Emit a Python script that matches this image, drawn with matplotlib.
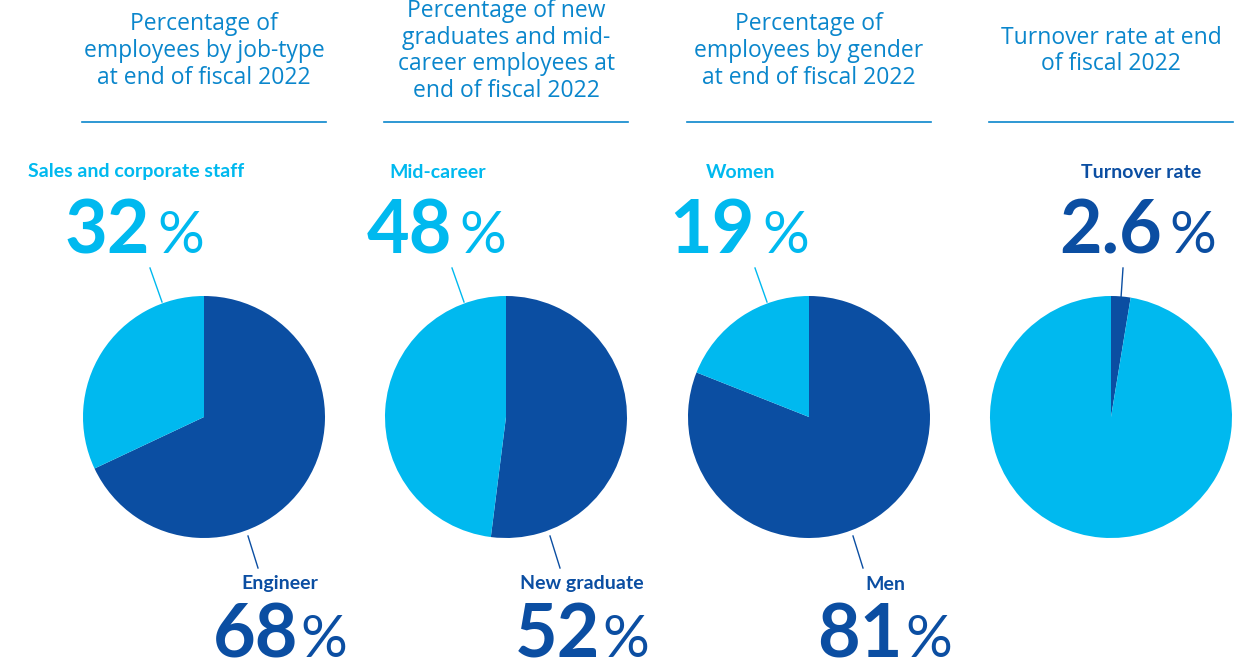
import matplotlib
matplotlib.use("Agg")
import matplotlib.pyplot as plt

W, H = 1245, 671

titles = [
    "Percentage of\nemployees by job-type\nat end of fiscal 2022",
    "Percentage of new\ngraduates and mid-\ncareer employees at\nend of fiscal 2022",
    "Percentage of\nemployees by gender\nat end of fiscal 2022",
    "Turnover rate at end\nof fiscal 2022",
]
dark_labels = ["Engineer", "New graduate", "Men", None]
light_labels = ["Sales and corporate staff", "Mid-career", "Women", None]
dark_values = [68, 52, 81, 2.6]
light_values = [32, 48, 19, 97.4]
dark_text = ["68", "52", "81", "2.6"]
light_text = ["32", "48", "19", None]
top_label = ["Sales and corporate staff", "Mid-career", "Women", "Turnover rate"]

DARK = "#0b4ea2"
LIGHT = "#00b9ef"
TITLE = "#0a86cc"

centers_x = [204, 506, 809, 1111]
cy = 417
R = 121

fig = plt.figure(figsize=(W / 100, H / 100), dpi=100)
ax = fig.add_axes([0, 0, 1, 1])

def Y(y):
    return H - y

NUM_FS = 53
PCT_FS = 42
LAB_FS = 14

for i, cx in enumerate(centers_x):
    ax.pie([dark_values[i], light_values[i]], colors=[DARK, LIGHT],
           startangle=90, counterclock=False, center=(cx, Y(cy)), radius=R,
           wedgeprops=dict(linewidth=0))
    # title
    ax.text(cx, Y(51), titles[i], ha="center", va="center", color=TITLE,
            fontsize=16.5, family="Open Sans", linespacing=1.15)
    ax.plot([cx - 122, cx + 122], [Y(122), Y(122)], color=TITLE, lw=1.2)

    if i < 3:
        # top (light) label
        ax.text(cx - 68, Y(172), light_labels[i], ha="center", va="center",
                color=LIGHT, fontsize=LAB_FS, family="Lato", fontweight="bold")
        ax.text(cx - 54, Y(253), light_text[i], ha="right", va="baseline",
                color=LIGHT, fontsize=NUM_FS, family="Lato", fontweight="bold")
        ax.text(cx - 47, Y(253), "%", ha="left", va="baseline",
                color=LIGHT, fontsize=PCT_FS, family="Lato", fontweight="normal")
        ax.plot([cx - 54, cx - 42], [Y(268), Y(302)], color=LIGHT, lw=1)
        # bottom (dark) label
        ax.text(cx + 76, Y(584), dark_labels[i], ha="center", va="center",
                color=DARK, fontsize=LAB_FS, family="Lato", fontweight="bold")
        ax.text(cx + 94, Y(657), dark_text[i], ha="right", va="baseline",
                color=DARK, fontsize=NUM_FS, family="Lato", fontweight="bold")
        ax.text(cx + 96, Y(657), "%", ha="left", va="baseline",
                color=DARK, fontsize=PCT_FS, family="Lato", fontweight="normal")
        ax.plot([cx + 44, cx + 54], [Y(536), Y(568)], color=DARK, lw=1)
    else:
        ax.text(cx + 30, Y(172), top_label[i], ha="center", va="center",
                color=DARK, fontsize=LAB_FS, family="Lato", fontweight="bold")
        ax.text(cx + 51, Y(253), dark_text[i], ha="right", va="baseline",
                color=DARK, fontsize=NUM_FS, family="Lato", fontweight="bold")
        ax.text(cx + 58, Y(253), "%", ha="left", va="baseline",
                color=DARK, fontsize=PCT_FS, family="Lato", fontweight="normal")
        ax.plot([cx + 12, cx + 10], [Y(268), Y(298)], color=DARK, lw=1)

ax.set_xlim(0, W)
ax.set_ylim(0, H)
ax.set_aspect("equal")
ax.axis("off")
fig.savefig("out.png", dpi=100)
